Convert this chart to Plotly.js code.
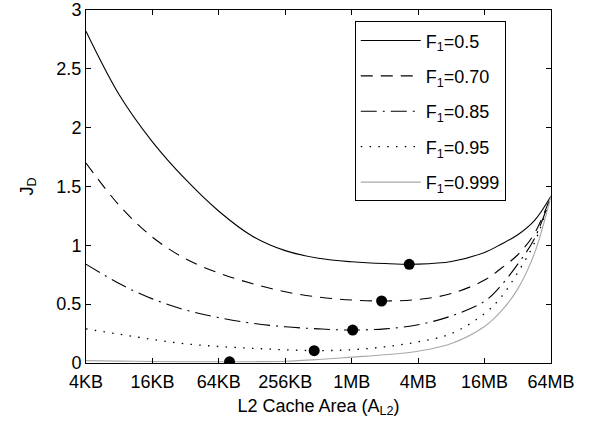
<!DOCTYPE html>
<html>
<head>
<meta charset="utf-8">
<script src="https://cdn.plot.ly/plotly-3.0.1.min.js"></script>
<style>
  html, body { margin: 0; padding: 0; background: #fff; }
  #chart { width: 592px; height: 426px; }
</style>
</head>
<body>
<div id="chart"></div>
<script>
// L2 cache sizes in KB (octaves from 4KB to 64MB, plus two half-octaves)
var sizesKB = [4, 8, 16, 32, 64, 128, 256, 512, 1024, 2048, 4096, 8192, 16384, 23170, 32768, 46341, 65536];

var jF050  = [2.82, 2.28, 1.88, 1.56, 1.29, 1.08, 0.955, 0.89, 0.86, 0.845, 0.84, 0.862, 0.94, 1.01, 1.09, 1.21, 1.42];
var jF070  = [1.70, 1.34, 1.07, 0.885, 0.765, 0.675, 0.605, 0.56, 0.535, 0.527, 0.54, 0.59, 0.705, 0.805, 0.92, 1.10, 1.42];
var jF085  = [0.84, 0.675, 0.545, 0.45, 0.385, 0.338, 0.308, 0.29, 0.28, 0.29, 0.325, 0.40, 0.525, 0.66, 0.84, 1.056, 1.42];
var jF095  = [0.29, 0.245, 0.20, 0.163, 0.14, 0.125, 0.112, 0.105, 0.113, 0.138, 0.18, 0.25, 0.42, 0.56, 0.77, 1.02, 1.42];
var jF0999 = [0.02, 0.016, 0.013, 0.011, 0.01, 0.011, 0.015, 0.03, 0.05, 0.07, 0.10, 0.165, 0.31, 0.44, 0.63, 0.93, 1.42];

var seriesNames = ['F<sub>1</sub>=0.5', 'F<sub>1</sub>=0.70', 'F<sub>1</sub>=0.85', 'F<sub>1</sub>=0.95', 'F<sub>1</sub>=0.999'];

// optimum (minimum) points
var optKB = [3400, 1911, 1045, 468, 80];
var optJ  = [0.839, 0.527, 0.28, 0.105, 0.01];

var tickVals = [4, 16, 64, 256, 1024, 4096, 16384, 65536];
var tickText = ['4KB', '16KB', '64KB', '256KB', '1MB', '4MB', '16MB', '64MB'];
var yTicks = [0, 0.5, 1, 1.5, 2, 2.5, 3];
var yTickText = ['0', '0.5', '1', '1.5', '2', '2.5', '3'];

var FONT = 'Liberation Sans, Arial, Helvetica, sans-serif';
var FS = 18;
var series = [jF050, jF070, jF085, jF095, jF0999];
var styles = [
  {color: '#000000', dash: 'solid', width: 1.1},
  {color: '#000000', dash: '12px,8px', width: 1.1},
  {color: '#000000', dash: '16px,6px,2px,6px', width: 1.1},
  {color: '#000000', dash: '1.5px,7.3px', width: 1.3},
  {color: '#a8a8a8', dash: 'solid', width: 1.1}
];

var traces = series.map(function (ys, i) {
  return {
    x: sizesKB, y: ys, type: 'scatter', mode: 'lines',
    name: seriesNames[i], legendgroup: 'g' + i,
    line: {color: styles[i].color, dash: styles[i].dash, width: styles[i].width, shape: 'spline', smoothing: 1},
    hoverinfo: 'skip'
  };
});
traces.push({
  x: optKB, y: optJ, type: 'scatter', mode: 'markers', showlegend: false,
  marker: {color: '#000000', size: 11}, hoverinfo: 'skip'
});

var axisCommon = {
  showline: true, linecolor: '#000', linewidth: 1, mirror: 'ticks',
  ticks: 'inside', ticklen: 5, tickcolor: '#000', tickwidth: 1,
  showgrid: false, zeroline: false,
  tickfont: {family: FONT, size: FS, color: '#000'}
};

var layout = {
  width: 592, height: 426,
  margin: {l: 86, r: 41, t: 10, b: 63},
  paper_bgcolor: '#fff', plot_bgcolor: '#fff',
  font: {family: FONT, size: FS, color: '#000'},
  showlegend: true,
  xaxis: Object.assign({}, axisCommon, {
    type: 'log', range: [Math.log10(4), Math.log10(65536)],
    tickmode: 'array', tickvals: tickVals, ticktext: tickText,
    ticklabelstandoff: 2,
    title: {text: 'L2 Cache Area (A<sub>L2</sub>)', font: {family: FONT, size: FS, color: '#000'}, standoff: 8}
  }),
  yaxis: Object.assign({}, axisCommon, {
    range: [0, 3], tickmode: 'array', tickvals: yTicks, ticktext: yTickText,
    title: {text: 'J<sub>D</sub>', font: {family: FONT, size: FS, color: '#000'}, standoff: 18}
  }),
  legend: {
    x: 0.578, y: 0.968, xanchor: 'left', yanchor: 'top',
    bordercolor: '#000', borderwidth: 1, bgcolor: '#fff',
    font: {family: FONT, size: FS, color: '#000'},
    itemwidth: 60, tracegroupgap: 9
  }
};

Plotly.newPlot('chart', traces, layout, {staticPlot: true, displayModeBar: false});
</script>
</body>
</html>
